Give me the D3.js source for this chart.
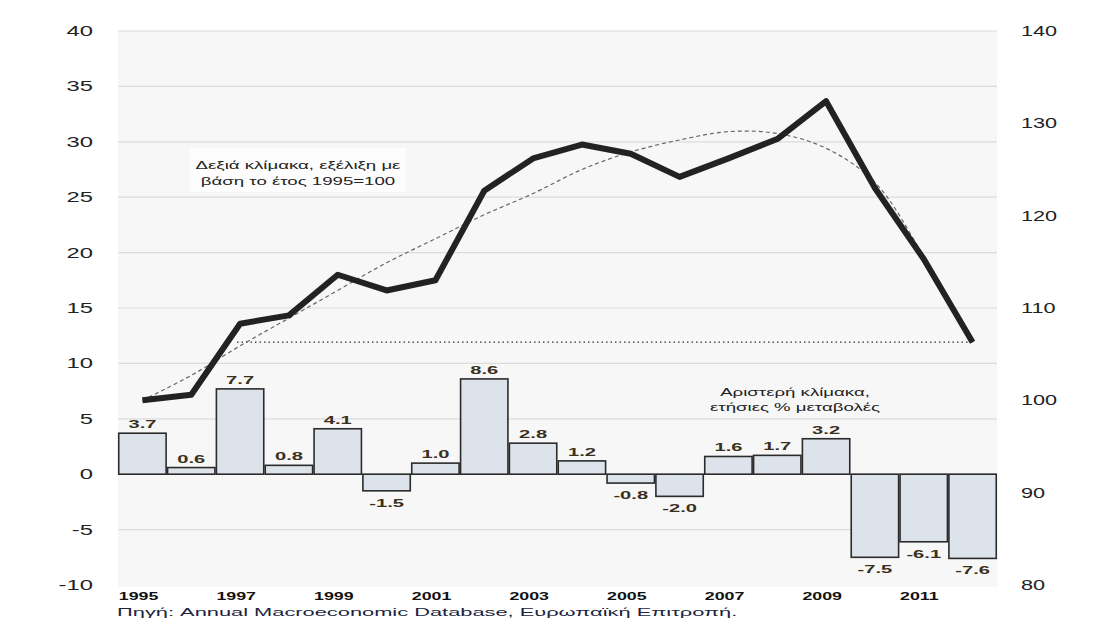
<!DOCTYPE html>
<html>
<head>
<meta charset="utf-8">
<script src="https://cdn.jsdelivr.net/npm/d3@7"></script>
<style>
  body { margin: 0; background: #fff; }
  svg text { font-family: "Liberation Sans", Arial, sans-serif; }
</style>
</head>
<body>
<svg id="chart" width="1103" height="635"></svg>
<script>
// data
var years = [1995, 1996, 1997, 1998, 1999, 2000, 2001, 2002, 2003, 2004, 2005, 2006, 2007, 2008, 2009, 2010, 2011, 2012];
var yearTicks = [1995, 1997, 1999, 2001, 2003, 2005, 2007, 2009, 2011];
var changes = [3.7, 0.6, 7.7, 0.8, 4.1, -1.5, 1.0, 8.6, 2.8, 1.2, -0.8, -2.0, 1.6, 1.7, 3.2, -7.5, -6.1, -7.6];
var index = [100, 100.6, 108.3, 109.2, 113.6, 111.9, 113.0, 122.7, 126.2, 127.7, 126.7, 124.2, 126.2, 128.3, 132.4, 123.0, 115.3, 106.3];
var trend = [100, 102.7, 105.9, 108.9, 111.9, 114.9, 117.5, 120.1, 122.4, 125.0, 126.9, 128.2, 129.1, 128.9, 127.3, 123.6, 115.6, 106.3];
var leftTicks = [40, 35, 30, 25, 20, 15, 10, 5, 0, -5, -10];
var rightTicks = [140, 130, 120, 110, 100, 90, 80];

var svg = d3.select("#chart");
var plotL = 118, plotR = 997, plotT = 31, plotB = 585;
var SX = 1.7; // the source picture's text is wide

var x = d3.scaleBand().domain(years).range([plotL, plotR]).paddingInner(0.03).paddingOuter(0.015);
var yL = d3.scaleLinear().domain([-10, 40]).range([plotB, plotT]);
var yR = d3.scaleLinear().domain([80, 140]).range([plotB, plotT]);
var cx = function (d, i) { return x(years[i]) + x.bandwidth() / 2; };

// put a text at (px,py) stretched horizontally
function place(sel, px, py, sx) {
    sel.attr("transform", function (d, i) {
        return "translate(" + px(d, i) + "," + py(d, i) + ") scale(" + sx + ",1)";
    });
}

// plot background
svg.append("rect")
    .attr("x", plotL).attr("y", plotT)
    .attr("width", plotR - plotL).attr("height", plotB - plotT + 2)
    .attr("fill", "#f7f7f7");

// grid
svg.append("g").selectAll("line")
    .data(leftTicks.filter(function (d) { return d > -10; }))
    .enter().append("line")
    .attr("x1", plotL).attr("x2", plotR)
    .attr("y1", function (d) { return yL(d); })
    .attr("y2", function (d) { return yL(d); })
    .attr("stroke", "#dcdcdc").attr("stroke-width", 1.2);

// left axis labels
var lt = svg.append("g").selectAll("text")
    .data(leftTicks).enter().append("text")
    .attr("dy", "0.36em").attr("text-anchor", "end")
    .attr("font-size", 14).attr("fill", "#222")
    .text(function (d) { return d; });
place(lt, function () { return 93; }, function (d) { return yL(d); }, SX);

// right axis labels
var rt = svg.append("g").selectAll("text")
    .data(rightTicks).enter().append("text")
    .attr("dy", "0.36em").attr("text-anchor", "start")
    .attr("font-size", 14).attr("fill", "#222")
    .text(function (d) { return d; });
place(rt, function () { return 1021; }, function (d) { return yR(d); }, 1.55);

// bars
svg.append("g").selectAll("rect")
    .data(changes).enter().append("rect")
    .attr("x", function (d, i) { return x(years[i]); })
    .attr("width", x.bandwidth())
    .attr("y", function (d) { return yL(Math.max(0, d)); })
    .attr("height", function (d) { return Math.abs(yL(d) - yL(0)); })
    .attr("fill", "#dce3ea")
    .attr("stroke", "#2b2b2b").attr("stroke-width", 1.6);

// bar labels
var bl = svg.append("g").selectAll("text")
    .data(changes).enter().append("text")
    .attr("text-anchor", "middle")
    .attr("font-size", 11.5).attr("font-weight", "bold")
    .attr("fill", "#3a3020")
    .text(function (d) { return d.toFixed(1); });
place(bl, cx, function (d) { return d >= 0 ? yL(d) - 5 : yL(d) + 16; }, 1.75);

// annotation background box
svg.append("rect").attr("x", 190).attr("y", 148).attr("width", 216).attr("height", 44).attr("fill", "#fdfdfd");

// reference dotted line at last level
svg.append("line")
    .attr("x1", 237).attr("x2", cx(null, years.length - 1))
    .attr("y1", yR(index[index.length - 1])).attr("y2", yR(index[index.length - 1]))
    .attr("stroke", "#333").attr("stroke-width", 1.2)
    .attr("stroke-dasharray", "1.5,3");

// trend curve
svg.append("path")
    .datum(trend)
    .attr("fill", "none")
    .attr("stroke", "#666").attr("stroke-width", 1.2)
    .attr("stroke-dasharray", "4,3")
    .attr("d", d3.line().x(cx).y(function (d) { return yR(d); }).curve(d3.curveCatmullRom));

// index line
svg.append("path")
    .datum(index)
    .attr("fill", "none")
    .attr("stroke", "#222").attr("stroke-width", 6)
    .attr("stroke-linejoin", "round")
    .attr("d", d3.line().x(cx).y(function (d) { return yR(d); }));

// annotations
var note1 = svg.append("text").attr("font-size", 11.5).attr("fill", "#222").attr("text-anchor", "middle")
    .attr("transform", "translate(298,0) scale(1.62,1)");
note1.append("tspan").attr("x", 0).attr("y", 169).text("Δεξιά κλίμακα, εξέλιξη με");
note1.append("tspan").attr("x", 0).attr("y", 185).text("βάση το έτος 1995=100");

var note2 = svg.append("text").attr("font-size", 11.5).attr("fill", "#222").attr("text-anchor", "middle")
    .attr("transform", "translate(795,0) scale(1.62,1)");
note2.append("tspan").attr("x", 0).attr("y", 396).text("Αριστερή κλίμακα,");
note2.append("tspan").attr("x", 0).attr("y", 411).text("ετήσιες % μεταβολές");

// year labels
var yl = svg.append("g").selectAll("text")
    .data(yearTicks).enter().append("text")
    .attr("font-size", 11.5).attr("font-weight", "bold").attr("fill", "#111")
    .text(function (d) { return d; });
place(yl, function (d) { return x(d); }, function () { return 600; }, 1.55);

// source
svg.append("text")
    .attr("font-size", 11.5).attr("fill", "#1c2440")
    .attr("transform", "translate(117,616) scale(1.9,1)")
    .text("Πηγή: Annual Macroeconomic Database, Ευρωπαϊκή Επιτροπή.");
</script>
</body>
</html>
